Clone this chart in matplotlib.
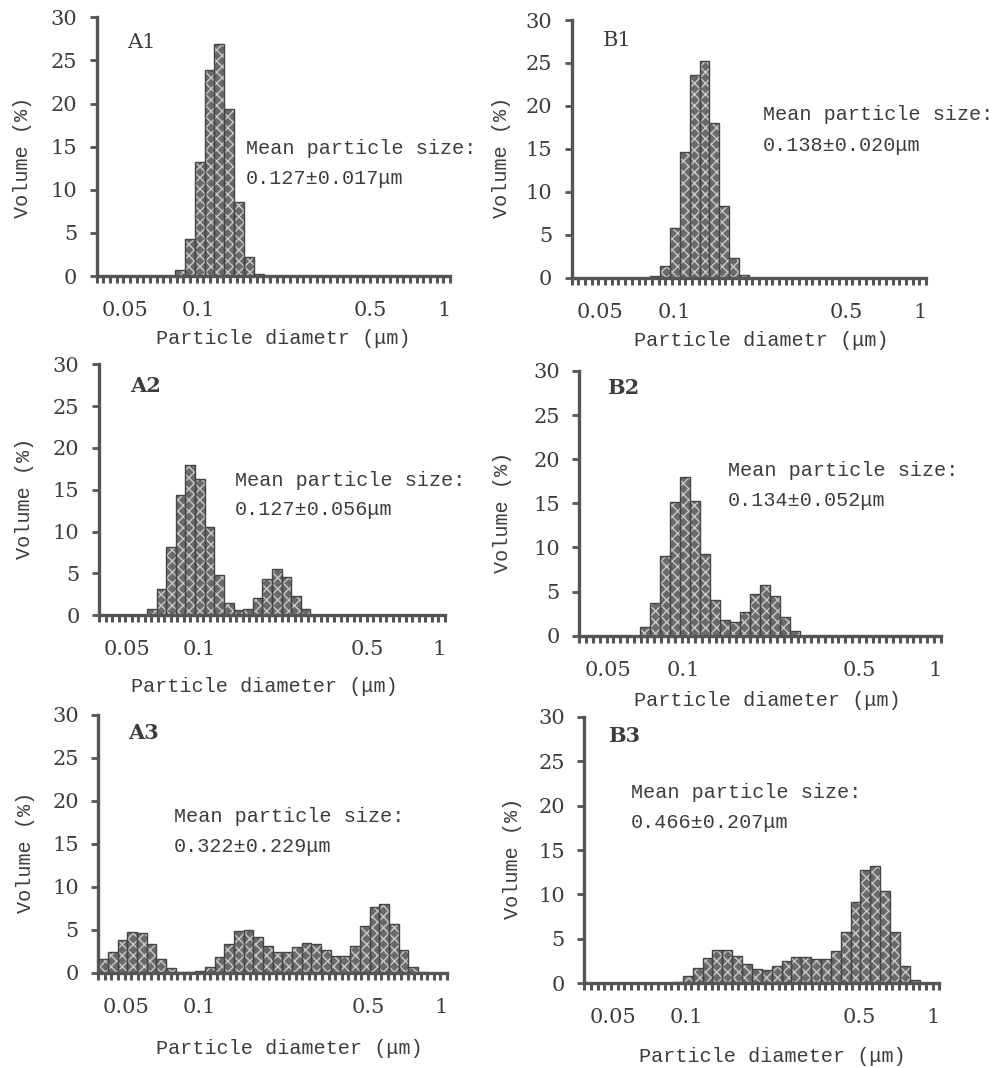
import numpy as np
import matplotlib
matplotlib.use("Agg")
import matplotlib.pyplot as plt
from matplotlib.ticker import NullFormatter

# bins of the size analyser: 36 log-spaced classes, 25 per decade
n_bins = 36
bin_lo = 10 ** (-1.416)
edges = bin_lo * 10 ** (0.04 * np.arange(n_bins + 1))

# volume (%) per class, first class index + values
a1_start = 8
a1_vol = [0.7, 4.3, 13.2, 23.9, 26.9, 19.4, 8.6, 2.2, 0.2]
b1_start = 8
b1_vol = [0.15, 1.35, 5.8, 14.6, 23.6, 25.2, 18.0, 8.3, 2.3, 0.3]
a2_start = 5
a2_vol = [0.8, 3.2, 8.2, 14.4, 18.0, 16.3, 10.6, 4.8, 1.5, 0.6, 0.8,
          2.1, 4.3, 5.5, 4.6, 2.3, 0.7]
b2_start = 6
b2_vol = [0.95, 3.7, 9.0, 15.1, 18.0, 15.3, 9.25, 4.1, 1.8, 1.5, 2.7,
          4.7, 5.8, 4.5, 2.15, 0.5]
a3_start = 0
a3_vol = [1.6, 2.4, 3.8, 4.7, 4.6, 3.3, 1.6, 0.5, 0.1, 0.1, 0.2, 0.65,
          1.8, 3.35, 4.8, 5.0, 4.2, 3.15, 2.45, 2.45, 2.95, 3.5, 3.3,
          2.65, 2.0, 1.95, 3.1, 5.4, 7.6, 8.0, 5.7, 2.7, 0.7, 0.05]
b3_start = 9
b3_vol = [0.2, 0.8, 1.75, 2.9, 3.7, 3.8, 3.1, 2.2, 1.65, 1.45, 1.9, 2.5,
          2.95, 2.95, 2.75, 2.75, 3.6, 5.75, 9.2, 12.7, 13.25, 10.4, 5.75,
          1.95, 0.4]

names = ["A1", "B1", "A2", "B2", "A3", "B3"]
starts = [a1_start, b1_start, a2_start, b2_start, a3_start, b3_start]
vols = [a1_vol, b1_vol, a2_vol, b2_vol, a3_vol, b3_vol]
means = ["0.127±0.017μm", "0.138±0.020μm", "0.127±0.056μm",
         "0.134±0.052μm", "0.322±0.229μm", "0.466±0.207μm"]
xlabels = ["Particle diametr (μm)", "Particle diametr (μm)",
           "Particle diameter (μm)", "Particle diameter (μm)",
           "Particle diameter (μm)", "Particle diameter (μm)"]
xticks = [0.05, 0.1, 0.5, 1]
xticklabels = ["0.05", "0.1", "0.5", "1"]

W, H = 995, 1068
dark = "#3c3c3c"
mono = "Liberation Mono"
serif = "DejaVu Serif"

# layout in pixels: left spine, y of 30, y of 0, right end
boxes = [(96.7, 17.3, 276, 450), (571.7, 20, 277.7, 926),
         (99, 364.3, 615.3, 445), (579.3, 371, 635.7, 940.7),
         (98.3, 715, 972.7, 447), (584.3, 716.7, 983.3, 939.3)]
# panel name, mean text (left, y line1), xlabel centre, ylabel centre
name_pos = [(127, 43), (603, 40), (130, 386), (607, 388), (128, 733), (608, 736)]
mean_pos = [(246, 148), (763, 115), (235, 480), (728, 471), (174, 816), (631, 793)]
xl_pos = [(283, 338), (761, 340), (264, 687), (767, 700), (289, 1048), (772, 1056)]
yl_pos = [(23, 157), (502, 157), (25, 498), (503, 512), (26, 852), (513, 858)]

fig = plt.figure(figsize=(W / 100, H / 100), dpi=100)

def fx(x):
    return x / W

def fy(y):
    return 1 - y / H

for i in range(6):
    l, t, b, r = boxes[i]
    ax = fig.add_axes([fx(l), fy(b), (r - l) / W, (b - t) / H])
    s = starts[i]
    v = np.array(vols[i])
    lefts = edges[s:s + len(v)]
    widths = edges[s + 1:s + 1 + len(v)] - lefts
    ax.bar(lefts, v, width=widths, align="edge", color="#6a6a6a",
           edgecolor="none", zorder=2)
    ax.bar(lefts, v, width=widths, align="edge", facecolor="none",
           edgecolor="#c9c9c9", hatch="xxx", linewidth=0, zorder=3)
    ax.bar(lefts, v, width=widths, align="edge", facecolor="none",
           edgecolor="#444444", linewidth=1.0, zorder=4)

    ax.set_xscale("log")
    ax.set_xlim(edges[0], edges[-1])
    ax.set_ylim(0, 30)
    ax.set_yticks(range(0, 31, 5))
    ax.set_xticks(xticks)
    ax.set_xticklabels(xticklabels)
    ax.set_xticks(np.geomspace(edges[0], edges[-1], 54), minor=True)
    ax.xaxis.set_minor_formatter(NullFormatter())

    for sp in ["top", "right"]:
        ax.spines[sp].set_visible(False)
    for sp in ["left", "bottom"]:
        ax.spines[sp].set_linewidth(2.4)
        ax.spines[sp].set_color("#555555")
        ax.spines[sp].set_zorder(5)
    ax.tick_params(axis="y", length=5, width=2, color="#555555", pad=9,
                   labelsize=15, labelcolor=dark)
    ax.tick_params(axis="x", which="major", length=0, pad=18,
                   labelsize=15, labelcolor=dark)
    ax.tick_params(axis="x", which="minor", length=5, width=2.2,
                   color="#555555")
    for lab in ax.get_xticklabels() + ax.get_yticklabels():
        lab.set_family(serif)
    ax.patch.set_alpha(0)

    bold = "bold" if i >= 2 else "normal"
    fig.text(fx(name_pos[i][0]), fy(name_pos[i][1]), names[i], family=serif,
             fontsize=15, weight=bold, color=dark, va="center", ha="left")
    fig.text(fx(mean_pos[i][0]), fy(mean_pos[i][1]), "Mean particle size:",
             family=mono, fontsize=14.5, color=dark, va="center", ha="left")
    fig.text(fx(mean_pos[i][0]), fy(mean_pos[i][1] + 30), means[i],
             family=mono, fontsize=14.5, color=dark, va="center", ha="left")
    fig.text(fx(xl_pos[i][0]), fy(xl_pos[i][1]), xlabels[i], family=mono,
             fontsize=14.5, color=dark, va="center", ha="center")
    fig.text(fx(yl_pos[i][0]), fy(yl_pos[i][1]), "Volume (%)", family=mono,
             fontsize=14.5, color=dark, va="center", ha="center", rotation=90)

fig.savefig("out.png", dpi=100)
